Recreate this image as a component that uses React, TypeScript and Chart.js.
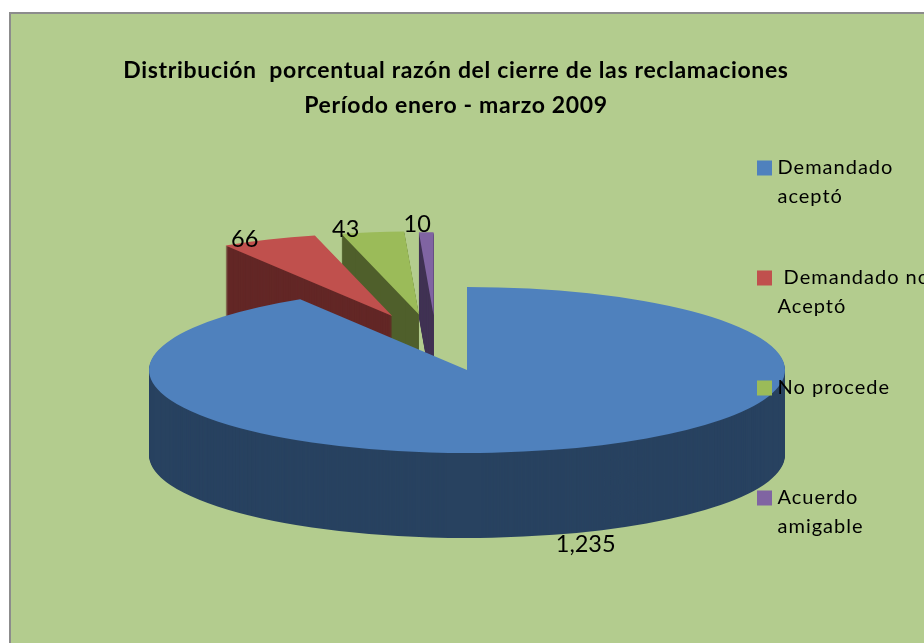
import React, { useEffect, useRef } from "react";
import { Chart, registerables } from "chart.js";

Chart.register(...registerables);

const categories: (string | string[])[] = [
  ["Demandado", "aceptó"],
  [" Demandado no", "Aceptó"],
  ["No procede", ""],
  ["Acuerdo", "amigable"],
];
const values = [1235, 66, 43, 10];
const topColors = ["#4F81BD", "#C0504D", "#9BBB59", "#8064A2"];
const sideColors = ["#284260", "#632726", "#4F5F2B", "#413354"];
const titleLines = [
  "Distribución  porcentual razón del cierre de las reclamaciones",
  "Período enero - marzo 2009",
];

const FONT = "Lato, 'Noto Sans', sans-serif";

const spaced = (chart: any, box: any, spacing: string, z: number) => {
  box._layers = () => [
    {
      z,
      draw(area: any) {
        const c = chart.ctx;
        c.save();
        c.letterSpacing = spacing;
        box.draw(area);
        c.restore();
      },
    },
  ];
};

const pie3d = {
  id: "pie3d",
  beforeUpdate(chart: any, _a: any, o: any) {
    if (chart.legend) spaced(chart, chart.legend, o.legendSpacing, 5);
    if (chart.titleBlock) spaced(chart, chart.titleBlock, o.titleSpacing, 5);
  },
  afterLayout(chart: any, _a: any, o: any) {
    const l = chart.legend;
    const w = l.right - l.left;
    l.left = o.legendLeft;
    l.right = o.legendLeft + w;
    l.top = o.legendTop;
  },
  beforeDraw(chart: any, _a: any, o: any) {
    const c = chart.ctx;
    c.save();
    c.fillStyle = o.frameColor;
    c.fillRect(o.frameLeft, o.frameTop, chart.width, chart.height);
    c.fillStyle = o.background;
    c.fillRect(o.frameLeft + 2, o.frameTop + 2, chart.width, chart.height);
    c.restore();
  },
  beforeDatasetDraw(chart: any, args: any, o: any) {
    const c = chart.ctx;
    const arcs = args.meta.data;
    for (let i = arcs.length - 1; i >= 0; i--) {
      const arc = arcs[i];
      const saved = arc.options;
      const sx = o.radiusX / arc.outerRadius;
      const sy = o.radiusY / arc.outerRadius;
      const ex = o.explode[i][0] * o.radiusX;
      const ey = o.explode[i][1] * o.radiusY;
      const paint = (dy: number, color: string) => {
        arc.options = {
          backgroundColor: color,
          borderColor: color,
          borderWidth: 0,
          borderAlign: "center",
          borderRadius: 0,
          offset: 0,
          spacing: 0,
          circular: true,
        };
        c.save();
        c.translate(o.centerX + ex - arc.x * sx, o.centerY + ey + dy - arc.y * sy);
        c.scale(sx, sy);
        arc.draw(c);
        c.restore();
      };
      for (let d = o.depth; d > 0; d--) paint(d, sideColors[i]);
      paint(0, topColors[i]);
      arc.options = saved;
    }
    return false;
  },
  afterDraw(chart: any, _a: any, o: any) {
    const c = chart.ctx;
    const arcs = chart.getDatasetMeta(0).data;
    c.save();
    c.font = `${o.labelSize}px ${FONT}`;
    c.fillStyle = "#000";
    c.textAlign = "center";
    c.textBaseline = "middle";
    arcs.forEach((arc: any, i: number) => {
      const mid = (arc.startAngle + arc.endAngle) / 2;
      const x = o.centerX + (o.explode[i][0] + Math.cos(mid)) * o.radiusX + o.labelShift[i][0];
      const y = o.centerY + (o.explode[i][1] + Math.sin(mid)) * o.radiusY + o.labelShift[i][1];
      c.fillText(values[i].toLocaleString("en-US"), x, y);
    });
    c.restore();
  },
};

export default function App() {
  const ref = useRef<HTMLCanvasElement>(null);
  useEffect(() => {
    const chart = new Chart(ref.current as HTMLCanvasElement, {
      type: "pie",
      data: {
        labels: categories as any,
        datasets: [{ data: values, backgroundColor: topColors, borderColor: topColors, borderWidth: 9 }],
      },
      plugins: [pie3d as any],
      options: {
        responsive: false,
        animation: false,
        events: [],
        layout: { padding: { right: 12 } },
        plugins: {
          tooltip: { enabled: false },
          title: {
            display: true,
            text: titleLines,
            color: "#000",
            font: { family: FONT, size: 23, weight: "bold", lineHeight: 1.52 },
            padding: { top: 53, bottom: 10 },
          },
          legend: {
            position: "right",
            align: "start",
            labels: {
              color: "#000",
              boxWidth: 6,
              boxHeight: 6,
              padding: 53,
              font: { family: FONT, size: 20, lineHeight: 1.425 },
            },
          },
          pie3d: {
            centerX: 467,
            centerY: 370,
            radiusX: 318,
            radiusY: 83,
            depth: 85,
            explode: [
              [0, 0],
              [-0.235, -0.65],
              [-0.151, -0.67],
              [-0.105, -0.66],
            ],
            labelShift: [
              [32, 95],
              [-24, 0],
              [-27, -3],
              [-9, -8],
            ],
            labelSize: 23.5,
            legendLeft: 708.5,
            legendTop: 105,
            legendSpacing: "1px",
            titleSpacing: "0.67px",
            frameLeft: 9,
            frameTop: 12,
            frameColor: "#8C8C8C",
            background: "#B3CC8E",
          },
        } as any,
      },
    });
    return () => chart.destroy();
  }, []);
  return (
    <div style={{ position: "fixed", left: 0, top: 0, width: 924, height: 643, background: "#fff" }}>
      <canvas ref={ref} width={924} height={643} style={{ display: "block" }} />
    </div>
  );
}
